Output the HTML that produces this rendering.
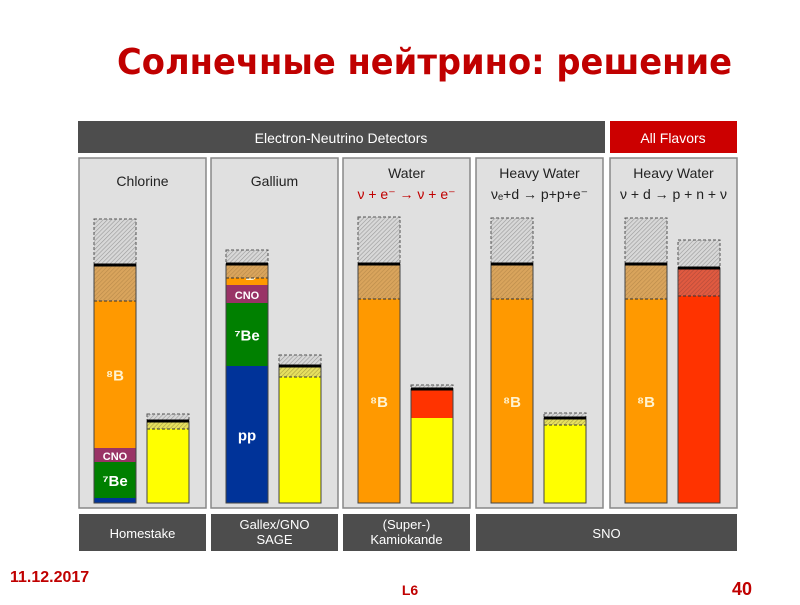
<!DOCTYPE html>
<html><head><meta charset="utf-8"><style>
body{margin:0;width:800px;height:600px;background:#fff;overflow:hidden;font-family:"Liberation Sans","DejaVu Sans",sans-serif}
</style></head><body>
<svg id="s" width="800" height="600" xmlns="http://www.w3.org/2000/svg">
<defs>
<pattern id="hatch" width="3" height="3" patternUnits="userSpaceOnUse" patternTransform="rotate(45)"><rect width="3" height="3" fill="#d8d8d8"/><line x1="0" y1="0" x2="0" y2="3" stroke="#999" stroke-width="1.2"/></pattern>
<pattern id="hatchO" width="3" height="3" patternUnits="userSpaceOnUse" patternTransform="rotate(45)"><rect width="3" height="3" fill="#d9a45c"/><line x1="0" y1="0" x2="0" y2="3" stroke="#b98a4a" stroke-width="1.2"/></pattern>
<pattern id="hatchY" width="3" height="3" patternUnits="userSpaceOnUse" patternTransform="rotate(45)"><rect width="3" height="3" fill="#e6e060"/><line x1="0" y1="0" x2="0" y2="3" stroke="#aaa040" stroke-width="1.2"/></pattern>
<pattern id="hatchR" width="3" height="3" patternUnits="userSpaceOnUse" patternTransform="rotate(45)"><rect width="3" height="3" fill="#e05a40"/><line x1="0" y1="0" x2="0" y2="3" stroke="#b04a3a" stroke-width="1.2"/></pattern>
</defs>
<text x="117" y="74" textLength="615" lengthAdjust="spacingAndGlyphs" font-family="'Comic Sans MS','DejaVu Sans',sans-serif" font-weight="bold" font-size="36" fill="#c00000">Солнечные нейтрино: решение</text>
<rect x="78" y="121" width="527" height="32" fill="#4d4d4d"/>
<text x="341" y="143" text-anchor="middle" fill="#fff" font-size="14">Electron-Neutrino Detectors</text>
<rect x="610" y="121" width="127" height="32" fill="#cc0000"/>
<text x="673" y="143" text-anchor="middle" fill="#fff" font-size="14">All Flavors</text>
<g id="panels"></g>
<g id="bars"></g>
<text x="10" y="582" font-weight="bold" font-size="16" fill="#c00000">11.12.2017</text>
<text x="410" y="595" text-anchor="middle" font-weight="bold" font-size="14" fill="#c00000">L6</text>
<text x="752" y="595" text-anchor="end" font-weight="bold" font-size="18" fill="#c00000">40</text>
</svg>
<script>
// Panel / experiment data
const panelTitles = ["Chlorine","Gallium","Water","Heavy Water","Heavy Water"];
const panelReactions = ["","","ν + e⁻ → ν + e⁻","νₑ+d → p+p+e⁻","ν + d → p + n + ν"];
const experimentLabels = [["Homestake"],["Gallex/GNO","SAGE"],["(Super-)","Kamiokande"],["SNO"]];
// Theory bars: stacked segments (bottom to top), heights in chart units
const theorySegments = [
  [["pp",5],["7Be",36],["CNO",14],["8B",147],["8Bunc",36]],
  [["pp",137],["7Be",63],["CNO",18],["8B",7],["8Bunc",14]],
  [["8B",204],["8Bunc",35]],
  [["8B",204],["8Bunc",35]],
  [["8B",204],["8Bunc",35]]
];
const theoryError = [46,14,47,46,46];
// Measured bars
const measuredMain = [74,126,85,78,207];
const measuredExtra = [0,0,28,0,0];
const measuredUnc = [8,11,1,7,28];
const measuredError = [7,11,4,5,28];
const measuredColor = ["#ffff00","#ffff00","#ffff00","#ffff00","#ff3300"];

const svg=document.getElementById('s');
const NS="http://www.w3.org/2000/svg";
const base=503, scale=1;
const y=v=>base-v*scale;
const panelX=[79,211,343,476,610], panelW=127;
const colors={pp:"#003399","7Be":"#008000",CNO:"#993366","8B":"#ff9900","8Bunc":"url(#hatchO)"};
function mk(tag,attrs,parent){const e=document.createElementNS(NS,tag);for(const k in attrs)e.setAttribute(k,attrs[k]);parent.appendChild(e);return e;}
const P=document.getElementById('panels'), B=document.getElementById('bars');
panelX.forEach((px,i)=>{
  const r=mk('rect',{x:px,y:158,width:panelW,height:350,fill:"#e0e0e0",stroke:"#888","stroke-width":1.5},P);
  
  
  const t=mk('text',{x:px+panelW/2,y:panelReactions[i]?178:186,"text-anchor":"middle","font-size":14,fill:"#222"},P);
  t.textContent=panelTitles[i];
  
  
  if(panelReactions[i]){const t2=mk('text',{x:px+panelW/2,y:199,"text-anchor":"middle","font-size":14,fill:i==2?"#c00000":"#222"},P);
    t2.textContent=panelReactions[i];
    
    }
});
const labX=[[79,127],[211,127],[343,127],[476,261]];
labX.forEach((l,i)=>{
  const r=mk('rect',{x:l[0],y:514,width:l[1],height:37,fill:"#4d4d4d"},P);
  
  
  const lines=experimentLabels[i];
  lines.forEach((s,j)=>{const t=mk('text',{x:l[0]+l[1]/2,y:lines.length==1?538:529+j*15,"text-anchor":"middle","font-size":13,fill:"#fff"},P);
    t.textContent=s;
    
    });
});
const bw=42;
panelX.forEach((px,i)=>{
  const x1=px+15, x2=px+68;
  let acc=0;
  theorySegments[i].forEach(([k,h])=>{
    const r=mk('rect',{x:x1,y:y(acc+h),width:bw,height:h*scale,fill:colors[k]},B);
    
    
    let cy=y(acc+h/2);
    if(k=="8B"&&h<20)cy=y(acc+h+4);
    if(k!="8Bunc"){
      let lab=null;
      if(k=="pp"&&h>30)lab="pp"; if(k=="CNO")lab="CNO"; if(k=="7Be")lab="⁷Be"; if(k=="8B")lab="⁸B";
      if(lab){const t=mk('text',{x:x1+bw/2,y:cy+(k=="CNO"?5:6),"text-anchor":"middle","font-size":k=="CNO"?11:15,fill:k=="8B"?"#fff3d0":"#fff","font-weight":"bold"},B);
        t.textContent=lab;
        
        }
    }
    acc+=h;
  });
  const lastH=theorySegments[i][theorySegments[i].length-1][1];
  mk('line',{x1:x1,x2:x1+bw,y1:y(acc-lastH),y2:y(acc-lastH),stroke:"#333","stroke-dasharray":"3,2"},B);
  mk('rect',{x:x1,y:y(acc),width:bw,height:acc*scale,fill:"none",stroke:"#444"},B);
  const e=mk('rect',{x:x1,y:y(acc+theoryError[i]),width:bw,height:theoryError[i]*scale,fill:"url(#hatch)",stroke:"#555","stroke-dasharray":"3,2"},B);
  
  
  mk('line',{x1:x1,x2:x1+bw,y1:y(acc),y2:y(acc),stroke:"#000","stroke-width":3},B);
  const m=measuredMain[i], ex=measuredExtra[i], u=measuredUnc[i], er=measuredError[i];
  const mr=mk('rect',{x:x2,y:y(m),width:bw,height:m*scale,fill:measuredColor[i]},B);
  
  
  if(ex){const xr=mk('rect',{x:x2,y:y(m+ex),width:bw,height:ex*scale,fill:"#ff3300"},B);
    
    }
  const top=m+ex+u;
  const ur=mk('rect',{x:x2,y:y(top),width:bw,height:u*scale,fill:(i==4||i==2)?"url(#hatchR)":"url(#hatchY)"},B);
  
  
  mk('line',{x1:x2,x2:x2+bw,y1:y(m+ex),y2:y(m+ex),stroke:"#333","stroke-dasharray":"3,2"},B);
  mk('rect',{x:x2,y:y(top),width:bw,height:top*scale,fill:"none",stroke:"#444"},B);
  const me=mk('rect',{x:x2,y:y(top+er),width:bw,height:er*scale,fill:"url(#hatch)",stroke:"#555","stroke-dasharray":"3,2"},B);
  
  
  mk('line',{x1:x2,x2:x2+bw,y1:y(top),y2:y(top),stroke:"#000","stroke-width":3},B);
});
</script>
</body></html>
